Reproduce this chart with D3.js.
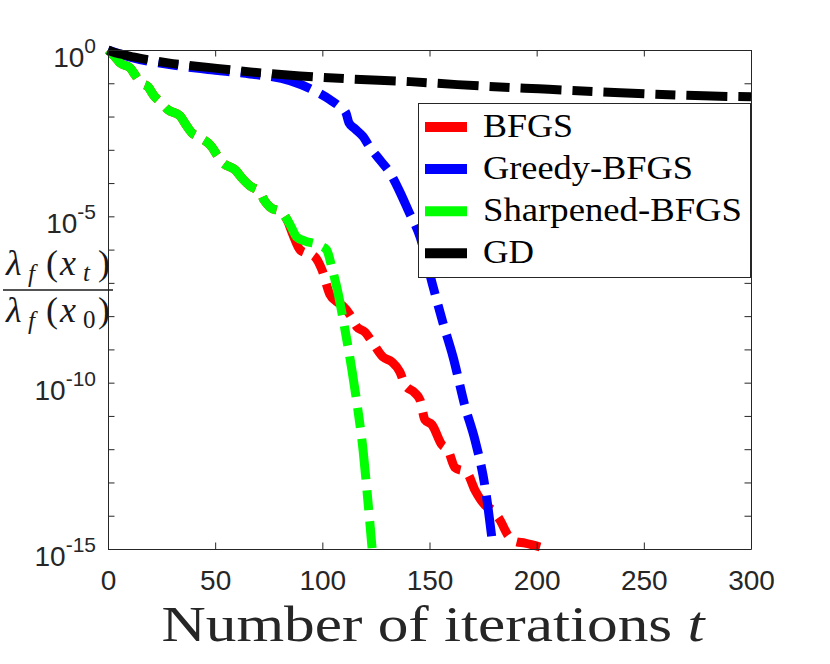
<!DOCTYPE html>
<html><head><meta charset="utf-8">
<script src="https://cdn.jsdelivr.net/npm/d3@7"></script>
<style>body{margin:0;background:#fff} .sf{font-family:'Liberation Serif','Times New Roman',serif} .ss{font-family:'Liberation Sans',Arial,sans-serif}</style>
</head><body>
<svg id="c" width="830" height="664"></svg>
<script>
// ---- data (iteration t, normalized value) ----
const seriesNames = ["BFGS", "Greedy-BFGS", "Sharpened-BFGS", "GD"];
const seriesColors = ["#ff0000", "#0000ff", "#00ff00", "#000000"];

const bfgs = [[0,1],[3.3,0.62],[5.6,0.41],[10.3,0.29],[12.6,0.18],[14.9,0.11],[18.7,7.8e-2],[21.5,4.2e-2],[24.3,2.8e-2],[28,1.6e-2],
  [33.6,1.05e-2],[36.4,5.6e-3],[39.2,3.2e-3],[42,2.5e-3],[48.5,1.2e-3],[50.9,6.9e-4],[53.2,4.3e-4],[59.3,2.5e-4],[63,1.3e-4],[66.3,8.1e-5],
  [70.9,5.4e-5],[72.8,3.1e-5],[75.6,1.9e-5],[81.2,1.3e-5],[84,6.8e-6],[86.3,2.8e-6],[89.6,9.8e-7],[96.6,6.0e-7],[99.8,2.5e-7],[103.6,4.4e-8],
  [106.8,2.7e-8],[109.6,2.0e-8],[112.9,1.1e-8],[116.2,4.7e-9],[119.9,3.3e-9],[123.2,1.7e-9],[128.3,5.9e-10],[132.5,4.2e-10],[136.2,2.1e-10],[138.6,8.5e-11],
  [143.2,4.9e-11],[145.6,3.0e-11],[147.9,7.6e-12],[151.2,5.4e-12],[155.8,1.35e-12],[158.6,9.5e-13],[161.9,2.8e-13],[167.5,1.95e-13],[171.2,5.9e-14],[175.9,2.1e-14],
  [179.2,1.5e-14],[182.9,7.4e-15],[186.6,2.6e-15],[189.9,1.7e-15],[194.6,1.5e-15],[201.6,1.15e-15]];

const greedy = [[0,1],[11.7,0.58],[28,0.37],[46.7,0.26],[66.3,0.19],[84.9,0.12],[95.6,6.3e-2],[103.6,3.2e-2],[108.2,1.95e-2],[111,1.3e-2],
  [112.4,6.5e-3],[115.2,4.3e-3],[119,2.5e-3],[122.2,1.2e-3],[126.9,4.9e-4],[131.6,2.0e-4],[136.2,5.4e-5],[140,1.55e-5],[145.6,2.4e-6],[151.2,1.0e-7],
  [156.3,6.2e-9],[161,5.9e-10],[166.6,1.9e-11],[171.2,1.9e-12],[175.9,7.4e-14],[179.6,1.15e-15]];

const sharpened = [[0,1],[3.3,0.62],[5.6,0.41],[10.3,0.29],[12.6,0.18],[14.9,0.11],[18.7,7.8e-2],[21.5,4.2e-2],[24.3,2.8e-2],[28,1.6e-2],
  [33.6,1.05e-2],[36.4,5.6e-3],[39.2,3.2e-3],[42,2.5e-3],[48.5,1.2e-3],[50.9,6.9e-4],[53.2,4.3e-4],[59.3,2.5e-4],[63,1.3e-4],[66.3,8.1e-5],
  [70.9,5.4e-5],[72.8,3.1e-5],[75.6,1.9e-5],[81.2,1.3e-5],[85,5.5e-6],[88,2.4e-6],[92,1.8e-6],[98,1.4e-6],[102,9.8e-7],[104.5,2.8e-7],
  [107,6.2e-8],[110.6,3.8e-9],[113.8,2.4e-10],[116.6,1.5e-11],[119,9.5e-13],[120.8,5.9e-14],[123.2,1.07e-15]];

const gd = [[0,1],[1.9,0.89],[5.6,0.76],[11.7,0.62],[19.6,0.50],[28,0.41],[46.7,0.30],[66.3,0.22],[89.6,0.166],[113,0.135],
  [141,0.112],[163,9.1e-2],[201,6.8e-2],[239,5.2e-2],[278,4.2e-2],[300,3.9e-2]];

const xTicks = [0, 50, 100, 150, 200, 250, 300];
const yTicks = [1,1e-1,1e-2,1e-3,1e-4,1e-5,1e-6,1e-7,1e-8,1e-9,1e-10,1e-11,1e-12,1e-13,1e-14,1e-15];
const yTickLabels = [[1,"0"],[1e-5,"-5"],[1e-10,"-10"],[1e-15,"-15"]];
const xLabelText = "Number of iterations ";
const xLabelVar = "t";

// ---- drawing ----
const svg = d3.select("#c");
const axisColor = "#262626";
const x = d3.scaleLinear().domain([0, 300]).range([108, 751]);
const y = d3.scaleLog().domain([1e-15, 1]).range([549, 50]);

// series
const allSeries = [bfgs, greedy, sharpened, gd];
const line = d3.line().x(d => x(d[0])).y(d => y(d[1])).curve(d3.curveMonotoneX);
allSeries.forEach((s, i) => {
  svg.append("path").datum(s).attr("d", line)
    .attr("fill", "none").attr("stroke", seriesColors[i])
    .attr("stroke-width", 9).attr("stroke-dasharray", "41 11 20 11")
    .attr("stroke-linecap", "butt").attr("stroke-linejoin", "round");
});

// axes (box with inward ticks)
function styleAxis(g) {
  g.selectAll("path,line").attr("stroke", axisColor).attr("stroke-width", 1);
  g.selectAll("text").attr("fill", axisColor);
}
svg.append("g").attr("transform", "translate(0,549)")
  .call(d3.axisBottom(x).tickValues(xTicks).tickSize(-6.5).tickSizeOuter(0).tickPadding(21))
  .call(g => g.attr("font-family", null).attr("font-size", null).attr("class", "ss").selectAll("text").attr("font-size", 28))
  .call(styleAxis);
svg.append("g").attr("transform", "translate(0,50)")
  .call(d3.axisTop(x).tickValues(xTicks).tickSize(-6.5).tickSizeOuter(0).tickFormat(""))
  .call(styleAxis);
svg.append("g").attr("transform", "translate(108,0)")
  .call(d3.axisLeft(y).tickValues(yTicks).tickSize(-6.5).tickSizeOuter(0).tickFormat(""))
  .call(styleAxis);
svg.append("g").attr("transform", "translate(751,0)")
  .call(d3.axisRight(y).tickValues(yTicks).tickSize(-6.5).tickSizeOuter(0).tickFormat(""))
  .call(styleAxis);

// y tick labels 10^k
yTickLabels.forEach(([v, e]) => {
  const t = svg.append("text").attr("class", "ss").attr("x", 96).attr("y", y(v) + 17)
    .attr("text-anchor", "end").attr("fill", axisColor).attr("font-size", 28);
  t.append("tspan").text("10");
  t.append("tspan").attr("dy", -14).attr("font-size", 21).text(e);
});

// x label
const xl = svg.append("text").attr("class", "sf").attr("x", 433).attr("y", 641).attr("text-anchor", "middle")
  .attr("fill", axisColor).attr("font-size", 51)
  .attr("textLength", 543).attr("lengthAdjust", "spacingAndGlyphs");
xl.append("tspan").text(xLabelText);
xl.append("tspan").attr("font-style", "italic").text(xLabelVar);

// y label: fraction lambda_f(x_t) / lambda_f(x_0)
function frac(base, sub) {
  const g = svg.append("g").attr("class", "sf").attr("fill", "#1a1a1a");
  g.append("text").attr("x", 6).attr("y", base).attr("font-size", 36).attr("font-style", "italic").text("λ");
  g.append("text").attr("x", 28).attr("y", base + 7).attr("font-size", 25).attr("font-style", "italic").text("f");
  g.append("text").attr("x", 46).attr("y", base).attr("font-size", 36).text("(");
  g.append("text").attr("x", 60).attr("y", base).attr("font-size", 36).attr("font-style", "italic").text("x");
  g.append("text").attr("x", 83).attr("y", base + 6).attr("font-size", 25)
    .attr("font-style", sub === "0" ? "normal" : "italic").text(sub);
  g.append("text").attr("x", 98).attr("y", base).attr("font-size", 36).text(")");
}
frac(275, "t");
frac(322, "0");
svg.append("line").attr("x1", 3).attr("x2", 113).attr("y1", 290).attr("y2", 290)
  .attr("stroke", "#1a1a1a").attr("stroke-width", 1.6);

// legend
const lg = svg.append("g");
lg.append("rect").attr("x", 418.5).attr("y", 103.5).attr("width", 332).attr("height", 174)
  .attr("fill", "#fff").attr("stroke", axisColor).attr("stroke-width", 1);
const legendTextWidths = [90, 210, 259, 51];
seriesNames.forEach((n, i) => {
  const cy = 127 + i * 42.1;
  lg.append("line").attr("x1", 425).attr("x2", 467).attr("y1", cy).attr("y2", cy)
    .attr("stroke", seriesColors[i]).attr("stroke-width", 10);
  lg.append("text").attr("class", "sf").attr("x", 483).attr("y", cy + 9.5).attr("fill", "#000")
    .attr("font-size", 34)
    .attr("textLength", legendTextWidths[i]).attr("lengthAdjust", "spacingAndGlyphs").text(n);
});
</script>
</body></html>
